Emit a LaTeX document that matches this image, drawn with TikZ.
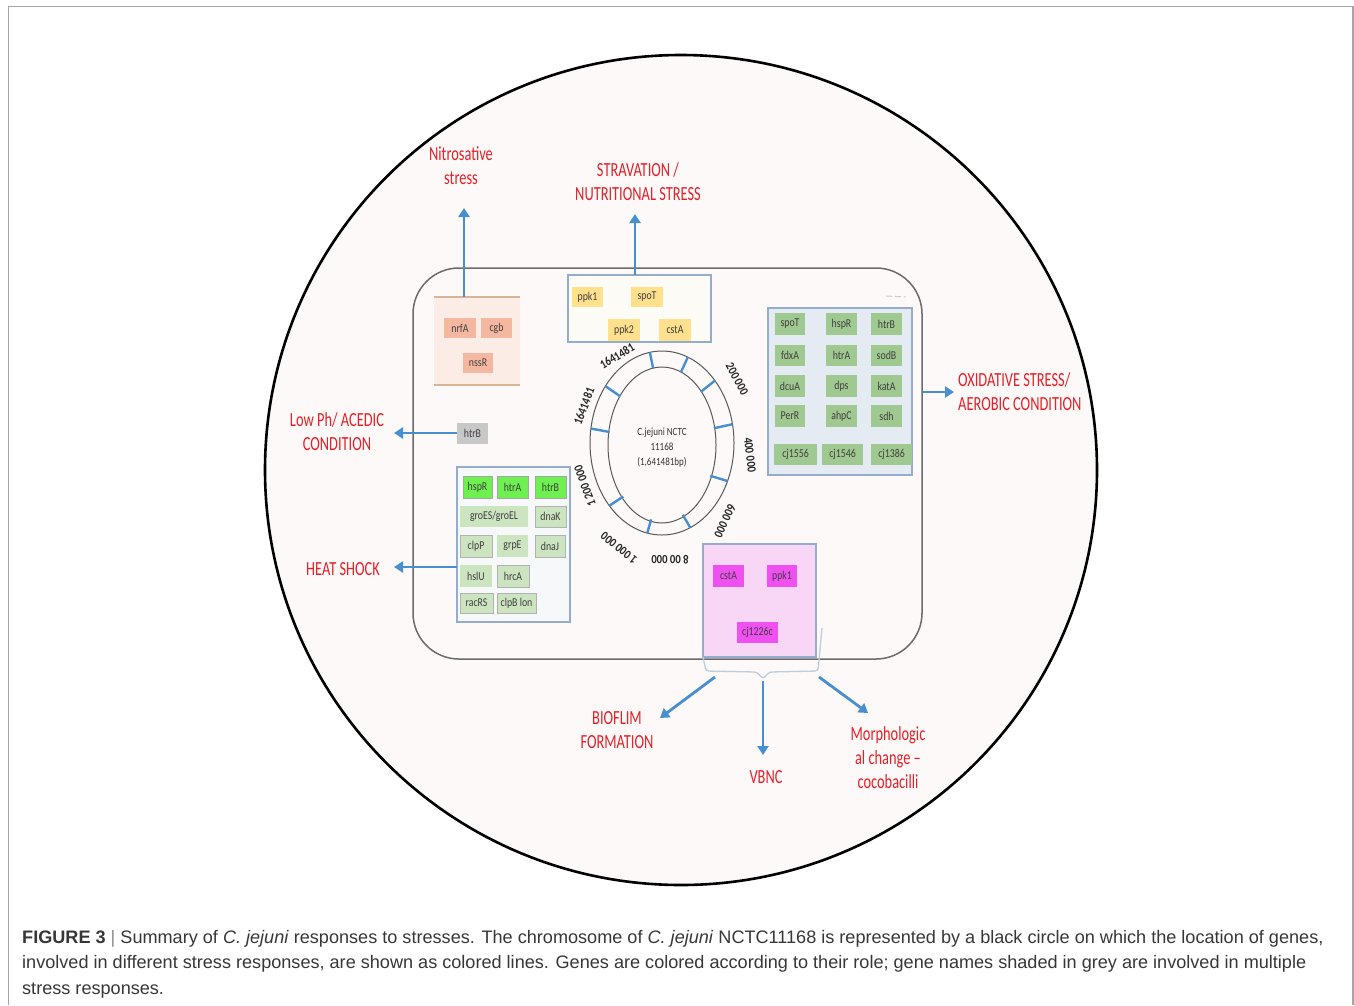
\documentclass[tikz,border=0pt]{standalone}
\usepackage{fontspec}
\setmainfont{Liberation Sans}
\newfontfamily\lblfont[FakeStretch=0.72]{Carlito}
\newfontfamily\genefont[FakeStretch=0.82]{Carlito}
\newfontfamily\numfont[FakeStretch=0.85]{Carlito}
\usetikzlibrary{arrows.meta,calc,shapes.geometric}
\definecolor{lblred}{RGB}{228,32,40}
\definecolor{arrblue}{RGB}{72,143,210}
\definecolor{boxblue}{RGB}{150,172,205}
\definecolor{cellfill}{RGB}{252,249,248}
\definecolor{framec}{RGB}{165,165,165}
\definecolor{salmon}{RGB}{244,184,160}
\definecolor{peach}{RGB}{251,237,229}
\definecolor{tanline}{RGB}{215,180,150}
\definecolor{yell}{RGB}{255,224,140}
\definecolor{cream}{RGB}{253,251,246}
\definecolor{oxfill}{RGB}{228,235,243}
\definecolor{gmid}{RGB}{160,200,145}
\definecolor{gbright}{RGB}{110,240,80}
\definecolor{glight}{RGB}{205,228,192}
\definecolor{greyg}{RGB}{200,200,200}
\definecolor{pinkfill}{RGB}{248,214,246}
\definecolor{magentag}{RGB}{240,80,240}
\definecolor{bracec}{RGB}{190,204,222}
\definecolor{captxt}{RGB}{55,55,55}
\definecolor{heatfill}{RGB}{246,248,250}
\tikzset{
  lbl/.style={font=\lblfont\fontsize{20}{24}\selectfont, text=lblred, align=center, inner sep=0},
  gene/.style={font=\genefont\fontsize{12}{12}\selectfont, text=black!75, inner sep=0, outer sep=0},
  grpbox/.style={draw=boxblue, line width=1.2, inner sep=0, outer sep=0},
  blarrow/.style={draw=arrblue, line width=2.8, -{Triangle[width=11pt,length=9pt]}},
  chrnum/.style={font=\numfont\bfseries\fontsize{12.5}{12.5}\selectfont, text=black!85, inner sep=0},
  captext/.style={anchor=base west, font=\fontsize{18.1}{21}\selectfont, text=captxt, inner sep=0}
}
% name, style, x1, y1, x2, y2, text
\newcommand\gn[7]{\node[#2, minimum width={(#5)-(#3)}, minimum height={(#6)-(#4)}] (#1) at ({((#3)+(#5))/2},{((#4)+(#6))/2}) {#7};}
\begin{document}
\begin{tikzpicture}[x=1pt,y=-1pt]
\useasboundingbox (0,0) rectangle (1354,1005);
\fill[white] (0,0) rectangle (1354,1005);
% outer frame
\draw[framec, line width=1.5] (8.5,1005) -- (8.5,6.5) -- (1353,6.5) -- (1353,1005);
% big circle
\node[draw=black, line width=2.6, fill=cellfill, ellipse, minimum width=832, minimum height=830, inner sep=0] (world) at (681,470) {};
% cell
\node[draw=black!58, line width=1.5, rounded corners=46, minimum width=509, minimum height=391, inner sep=0] (cell) at (667.5,463.5) {};

% ---------------- chromosome ----------------
\draw[black!65, line width=1] (662,443) ellipse [x radius=72, y radius=92];
\draw[black!65, line width=1] (662,445) ellipse [x radius=54, y radius=78];
\foreach \t in {99.7,69,42.7,11.8,-24.4,-66.9,-101.8,-137,171,141.8}{
  \draw[arrblue, line width=2.4] ({662+53*cos(\t)},{444-77*sin(\t)}) -- ({662+72*cos(\t)},{443-92*sin(\t)});
}
\node[font=\genefont\fontsize{11}{15}\selectfont, align=center, text=black!80, inner sep=0] (chrname) at (662,448) {C.jejuni NCTC\\11168\\(1,641481bp)};
\node[chrnum, rotate=31] (n1) at (617,356) {1641481};
\node[chrnum, rotate=69] (n2) at (584,406) {1641481};
\node[chrnum, rotate=-62] (n3) at (737,379) {200 000};
\node[chrnum, rotate=-83] (n4) at (750,455) {400 000};
\node[chrnum, rotate=-115] (n5) at (725,521) {600 000};
\node[chrnum, rotate=180] (n6) at (670,560) {8 00 000};
\node[chrnum, rotate=141] (n7) at (619,548) {1 000 000};
\node[chrnum, rotate=110] (n8) at (585,486) {1 200 000};

% ---------------- nitrosative ----------------
\node[fill=peach, minimum width=86, minimum height=88, inner sep=0, outer sep=0] (nitro) at (477,341) {};
\draw[tanline, line width=1.3] (nitro.north west) -- (nitro.north east);
\draw[tanline, line width=1.3] (nitro.south west) -- (nitro.south east);
\gn{nrfA}{gene, fill=salmon}{444}{318}{476}{338}{nrfA}
\gn{cgb}{gene, fill=salmon}{481}{318}{512}{338}{cgb}
\gn{nssR}{gene, fill=salmon}{463}{353}{493}{373}{nssR}
\node[lbl] (nitroL) at (461,166) {Nitrosative\\stress};
\coordinate (nitroTip) at (464,208);
\draw[blarrow] (nitroTip |- nitro.north) -- (nitroTip);

% ---------------- starvation ----------------
\gn{starv}{grpbox, fill=cream}{568}{275}{711}{342}{}
\gn{ppkA}{gene, fill=yell}{572}{287}{603}{307}{ppk1}
\gn{spoTa}{gene, fill=yell}{631}{287}{663}{307}{spoT}
\gn{ppkB}{gene, fill=yell}{608}{319}{640}{341}{ppk2}
\gn{cstAa}{gene, fill=yell}{659}{319}{691}{341}{cstA}
\node[lbl] (starvL) at (638,182) {STRAVATION /\\NUTRITIONAL STRESS};
\coordinate (starvTip) at (635,214);
\draw[blarrow] (starvTip |- starv.north) -- (starvTip);

% ---------------- oxidative ----------------
\gn{ox}{grpbox, fill=oxfill}{768}{308}{912}{475}{}
\draw[black!20, line width=1, dash pattern=on 6pt off 3pt] (886,296) -- (906,297);
\gn{oxa}{gene, fill=gmid}{775}{313}{805}{335}{spoT}
\gn{oxb}{gene, fill=gmid}{826}{313}{857}{335}{hspR}
\gn{oxc}{gene, fill=gmid}{871}{313}{902}{335}{htrB}
\gn{oxd}{gene, fill=gmid}{775}{345}{805}{366}{fdxA}
\gn{oxe}{gene, fill=gmid}{826}{345}{857}{366}{htrA}
\gn{oxf}{gene, fill=gmid}{871}{345}{902}{366}{sodB}
\gn{oxg}{gene, fill=gmid}{775}{375}{805}{397}{dcuA}
\gn{oxh}{gene, fill=gmid}{826}{375}{857}{397}{dps}
\gn{oxi}{gene, fill=gmid}{871}{375}{902}{397}{katA}
\gn{oxj}{gene, fill=gmid}{775}{405}{805}{427}{PerR}
\gn{oxk}{gene, fill=gmid}{826}{405}{857}{427}{ahpC}
\gn{oxl}{gene, fill=gmid}{871}{405}{902}{427}{sdh}
\gn{oxm}{gene, fill=gmid}{774}{444}{817}{465}{cj1556}
\gn{oxn}{gene, fill=gmid}{822}{444}{863}{465}{cj1546}
\gn{oxo}{gene, fill=gmid}{871}{444}{912}{465}{cj1386}
\node[lbl, align=left, anchor=west] (oxL) at (958,392) {OXIDATIVE STRESS/\\AEROBIC CONDITION};
\coordinate (oxTip) at (954,392);
\draw[blarrow] (oxTip -| cell.east) -- (oxTip);

% ---------------- low pH ----------------
\gn{htrBg}{gene, fill=greyg}{457}{423}{488}{444}{htrB}
\node[lbl] (phL) at (337,432) {Low Ph/ ACEDIC\\CONDITION};
\coordinate (phTip) at (394,433);
\draw[blarrow] (phTip -| htrBg.west) -- (phTip);

% ---------------- heat shock ----------------
\gn{heat}{grpbox, fill=heatfill}{457}{467}{570}{622}{}
\gn{hsa}{gene, fill=gbright, draw=black!35}{463}{476}{492}{498}{hspR}
\gn{hsb}{gene, fill=gbright, draw=black!35}{497}{476}{528}{498}{htrA}
\gn{hsc}{gene, fill=gbright, draw=black!35}{535}{476}{566}{498}{htrB}
\gn{hsd}{gene, fill=glight}{460}{506}{528}{527}{groES/groEL}
\gn{hse}{gene, fill=glight, draw=black!30}{535}{506}{566}{527}{dnaK}
\gn{hsf}{gene, fill=glight, draw=black!30}{460}{535}{492}{557}{clpP}
\gn{hsg}{gene, fill=glight}{497}{535}{528}{557}{grpE}
\gn{hsh}{gene, fill=glight, draw=black!30}{535}{535}{565}{557}{dnaJ}
\gn{hsi}{gene, fill=glight}{460}{565}{492}{587}{hslU}
\gn{hsj}{gene, fill=glight, draw=black!30}{497}{565}{529}{587}{hrcA}
\gn{hsk}{gene, fill=glight, draw=black!30}{460}{593}{493}{613}{racRS}
\gn{hsl}{gene, fill=glight, draw=black!30}{497}{593}{536}{613}{clpB lon}
\node[lbl] (hsL) at (343,569) {HEAT SHOCK};
\coordinate (hsTip) at (394,567);
\draw[blarrow] (hsTip -| heat.west) -- (hsTip);

% ---------------- pink box ----------------
\gn{pink}{grpbox, fill=pinkfill}{703}{544}{816}{657}{}
\gn{pka}{gene, fill=magentag}{713}{565}{744}{587}{cstA}
\gn{pkb}{gene, fill=magentag}{767}{565}{797}{587}{ppk1}
\gn{pkc}{gene, fill=magentag}{737}{622}{778}{643}{cj1226c}
\draw[bracec, line width=1.3, rounded corners=3] (pink.south west) -- (706,671) -- (757,672) -- (763,679) -- (769,672) -- (818,671) -- (822,628);
\coordinate (brL) at (715,677);
\coordinate (brM) at (763,681);
\coordinate (brR) at (819,677);
\coordinate (bioTip) at (660,718);
\coordinate (vbncTip) at (763,755);
\coordinate (morphTip) at (868,713);
\draw[blarrow] (brL) -- (bioTip);
\draw[blarrow] (brM) -- (vbncTip);
\draw[blarrow] (brR) -- (morphTip);
\node[lbl] (bioL) at (617,730) {BIOFLIM\\FORMATION};
\node[lbl] (vbncL) at (766,777) {VBNC};
\node[lbl] (morphL) at (888,758) {Morphologic\\al change –\\cocobacilli};

% ---------------- caption ----------------
\node[captext] (cap1) at (22,943) {\textbf{FIGURE 3} {\color{black!45}|} Summary of \textit{C. jejuni} responses to stresses. The chromosome of \textit{C. jejuni} NCTC11168 is represented by a black circle on which the location of genes,};
\node[captext] (cap2) at (22,968.5) {involved in different stress responses, are shown as colored lines. Genes are colored according to their role; gene names shaded in grey are involved in multiple};
\node[captext] (cap3) at (22,994) {stress responses.};
\end{tikzpicture}
\end{document}
